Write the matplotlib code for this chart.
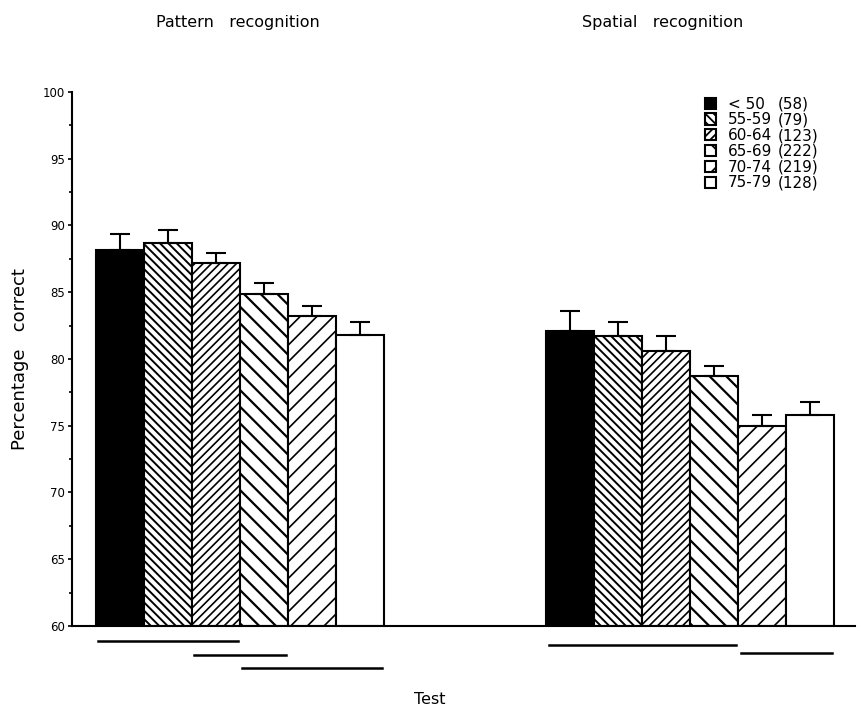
import matplotlib
matplotlib.use('Agg')
import matplotlib.pyplot as plt
from matplotlib.patches import Patch
from matplotlib.ticker import MultipleLocator
import matplotlib.transforms as mtransforms

plt.rcParams['font.family'] = ['DejaVu Sans']
plt.rcParams['hatch.linewidth'] = 1.3

# data
tests = ['Pattern   recognition', 'Spatial   recognition']
age_groups = ['< 50', '55-59', '60-64', '65-69', '70-74', '75-79']
group_n = [58, 79, 123, 222, 219, 128]
pattern_mean = [88.2, 88.7, 87.2, 84.9, 83.2, 81.8]
pattern_sem = [1.2, 1.0, 0.75, 0.8, 0.8, 1.0]
spatial_mean = [82.1, 81.7, 80.6, 78.7, 75.0, 75.8]
spatial_sem = [1.5, 1.05, 1.1, 0.8, 0.8, 1.0]
# non-significant groupings (first bar, last bar) drawn under each test
pattern_lines = [(0, 2), (2, 3), (3, 5)]
spatial_lines = [(0, 3), (4, 5)]

hatches = ['', '\\\\\\\\', '////', '\\\\', '//', '']
hatch_lw = [1.0, 1.4, 1.2, 1.6, 1.2, 1.0]
colors = ['black', 'white', 'white', 'white', 'white', 'white']

fig = plt.figure(figsize=(8.61, 7.13), dpi=100)
ax = fig.add_axes([72 / 861, 1 - 626 / 713, 783 / 861, 534 / 713])

starts = [0.5, 9.88]
means = [pattern_mean, spatial_mean]
sems = [pattern_sem, spatial_sem]
lines = [pattern_lines, spatial_lines]
handles = []
for g in range(2):
    for i in range(6):
        x = starts[g] + i
        b = ax.bar(x, means[g][i] - 60, bottom=60, width=1, align='edge',
                   color=colors[i], edgecolor='black', linewidth=1.5, hatch=hatches[i])
        if hasattr(b[0], 'set_hatch_linewidth'):
            b[0].set_hatch_linewidth(hatch_lw[i])
        ax.errorbar(x + 0.5, means[g][i], yerr=[[0], [sems[g][i]]], color='black',
                    elinewidth=1.5, capsize=7, capthick=1.5)
        if g == 0:
            handles.append(b[0])

trans = mtransforms.blended_transform_factory(ax.transData, ax.transAxes)
yoff = [[-0.028, -0.054, -0.078], [-0.036, -0.051]]
for g in range(2):
    for k, (a, e) in enumerate(lines[g]):
        ax.plot([starts[g] + a + 0.05, starts[g] + e + 0.95], [yoff[g][k]] * 2, color='black',
                linewidth=1.8, transform=trans, clip_on=False)

ax.set_xlim(0, 16.31)
ax.set_ylim(60, 100)
ax.yaxis.set_major_locator(MultipleLocator(5))
ax.yaxis.set_minor_locator(MultipleLocator(2.5))
ax.tick_params(axis='y', which='major', length=3, width=1.2, labelsize=8.5, pad=2)
ax.tick_params(axis='y', which='minor', length=2, width=1.2)
ax.set_xticks([])
for s in ['top', 'right']:
    ax.spines[s].set_visible(False)
ax.spines['left'].set_linewidth(1.5)
ax.spines['bottom'].set_linewidth(1.5)
ax.set_ylabel('Percentage   correct', fontsize=13, labelpad=10)

fig.text(238 / 861, 1 - 22 / 713, tests[0], ha='center', va='center', fontsize=11.5)
fig.text(663 / 861, 1 - 22 / 713, tests[1], ha='center', va='center', fontsize=11.5)
fig.text(430 / 861, 1 - 700 / 713, 'Test', ha='center', va='center', fontsize=11.5)

blank = [Patch(facecolor='none', edgecolor='none') for _ in group_n]
leg = ax.legend(handles + blank, age_groups + ['(%d)' % n for n in group_n], ncol=2,
                loc='upper left', bbox_to_anchor=(697 / 861, 1 - 89 / 713),
                bbox_transform=fig.transFigure, frameon=False, fontsize=11,
                handlelength=0.75, handleheight=0.75, handletextpad=0.75,
                columnspacing=-1.1, labelspacing=0.05, borderpad=0)

fig.savefig('out.png', dpi=100)
